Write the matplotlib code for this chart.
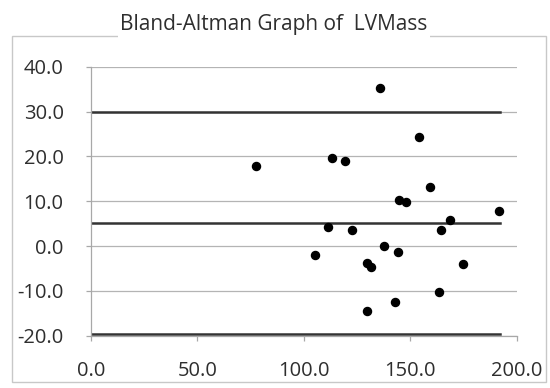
import matplotlib
matplotlib.use("Agg")
import matplotlib.pyplot as plt
from matplotlib.patches import Rectangle

# Bland-Altman data: mean of the two measures vs. their difference
mean_vals = [135.9, 153.9, 77.8, 113.4, 119.3, 159.4, 144.5, 148.1, 191.5, 168.6, 111.2,
             122.6, 164.4, 137.5, 144.1, 105.1, 129.7, 131.8, 174.7, 163.7, 142.7, 129.7]
diff_vals = [35.3, 24.3, 17.9, 19.6, 19.0, 13.1, 10.4, 9.9, 7.9, 5.9, 4.2,
             3.7, 3.7, 0.0, -1.4, -2.0, -3.8, -4.6, -4.1, -10.2, -12.5, -14.5]

# mean difference and limits of agreement, drawn from 0 to the largest mean
line_x = [0, 192.2]
bias = 5.2
upper_loa = 29.9
lower_loa = -19.6

x_ticks = [0, 50, 100, 150, 200]
y_ticks = [-20, -10, 0, 10, 20, 30, 40]

plt.rcParams['font.family'] = ['Open Sans', 'DejaVu Sans']
text_col = '#2e2e2e'

fig = plt.figure(figsize=(5.5, 3.88), dpi=100)
ax = fig.add_axes([0.1649, 0.1348, 0.7746, 0.6928])

# chart border
fig.patches.append(Rectangle((12 / 550, 1 - 382 / 388), 534 / 550, 346 / 388,
                             transform=fig.transFigure, fill=False,
                             edgecolor='#c8c8c8', linewidth=1.0))

for y in y_ticks:
    ax.axhline(y, color='#b4b4b4', linewidth=0.9, zorder=1)

for y in [upper_loa, bias, lower_loa]:
    ax.plot(line_x, [y, y], color='#333333', linewidth=1.8, zorder=2)

ax.plot(mean_vals, diff_vals, linestyle='none', marker='o', markersize=5.8,
        color='black', zorder=3)

ax.set_xlim(0, 200)
ax.set_ylim(-20, 40)
ax.set_xticks(x_ticks)
ax.set_yticks(y_ticks)
ax.set_xticklabels([f"{v:.1f}" for v in x_ticks])
ax.set_yticklabels([f"{v:.1f}" for v in y_ticks])

for side in ['top', 'right']:
    ax.spines[side].set_visible(False)
ax.spines['left'].set_color('#a8a8a8')
ax.spines['bottom'].set_color('#a8a8a8')
ax.spines['left'].set_linewidth(0.9)
ax.spines['bottom'].set_linewidth(0.9)

ax.tick_params(axis='both', colors='#a8a8a8', labelcolor=text_col,
               labelsize=14.5, length=3.5, width=0.9)
ax.tick_params(axis='y', pad=16)
ax.tick_params(axis='x', pad=15)

fig.text(274 / 550, 1 - 30 / 388, "Bland-Altman Graph of  LVMass",
         ha='center', va='baseline', fontsize=15, color=text_col,
         bbox=dict(facecolor='white', edgecolor='none', pad=2))

fig.savefig("out.png", dpi=100)
